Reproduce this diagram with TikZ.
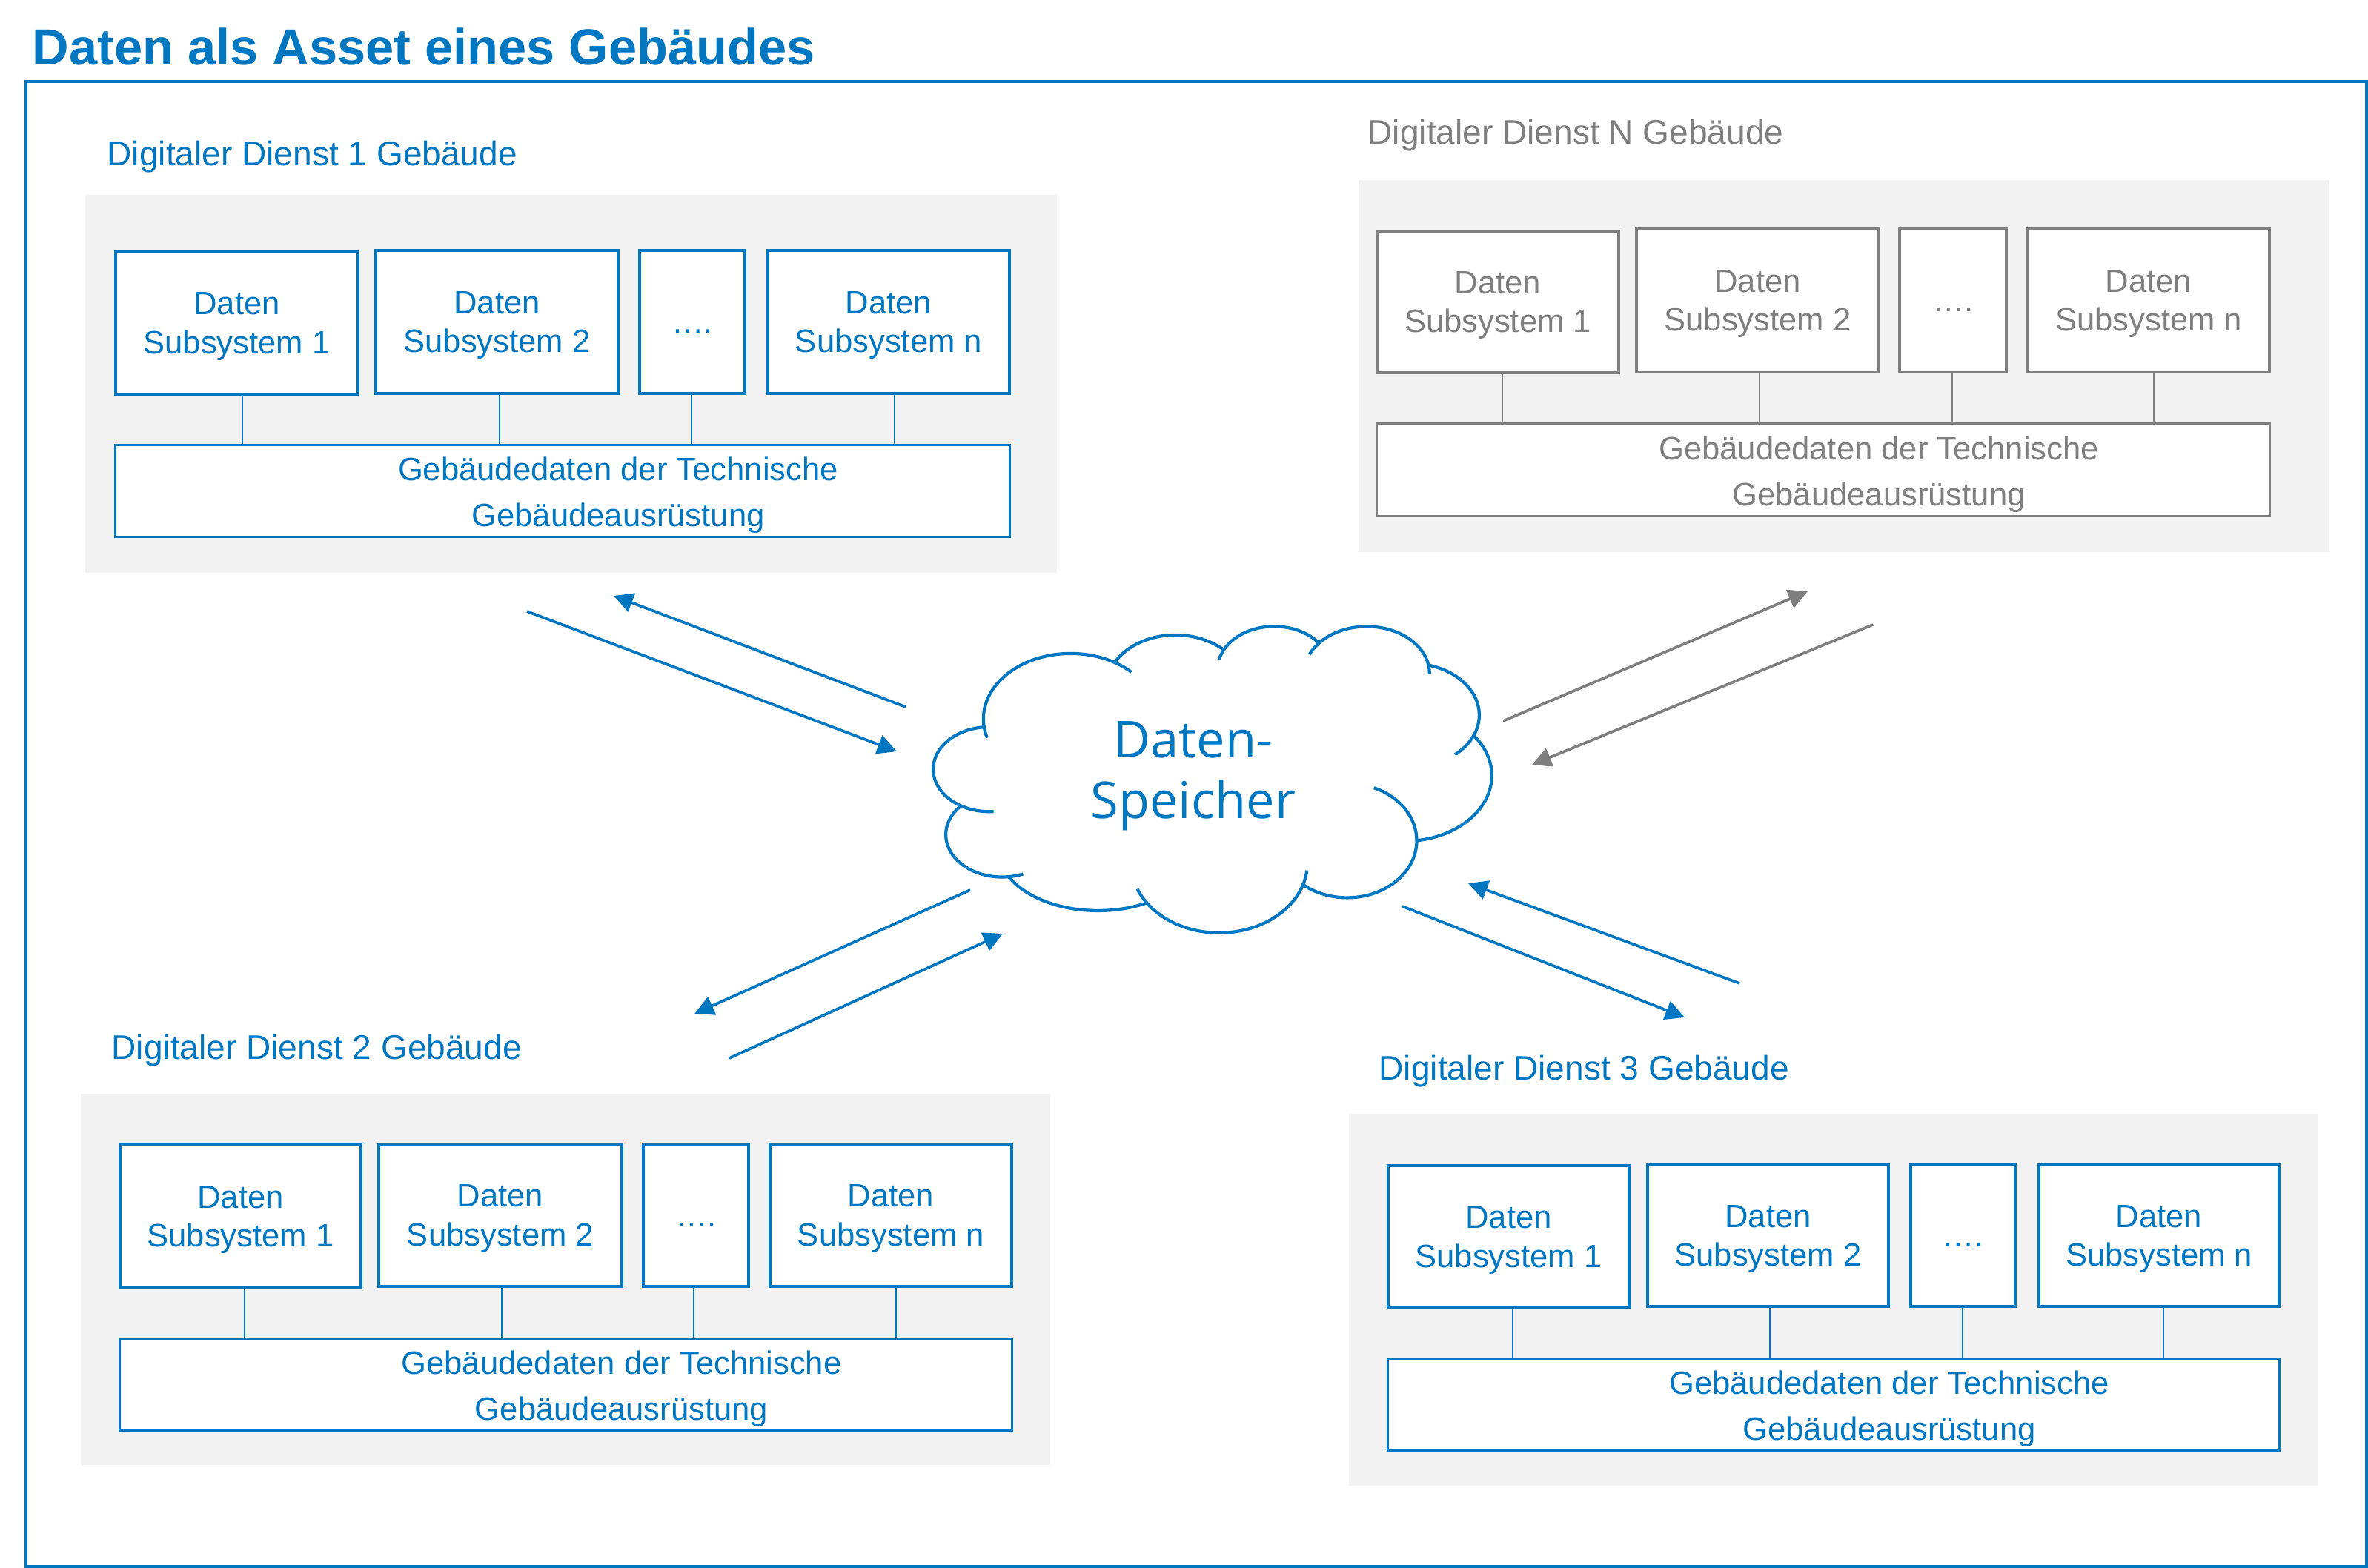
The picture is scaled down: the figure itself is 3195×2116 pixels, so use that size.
\documentclass[tikz,border=0pt]{standalone}
\usepackage{fontspec}
\setmainfont{Liberation Sans}
\newfontfamily\cloudfont{Open Sans}
\usetikzlibrary{arrows.meta}
\definecolor{bl}{HTML}{0077C0}
\definecolor{gr}{HTML}{7F7F7F}
\definecolor{pn}{HTML}{F2F2F2}
\newcommand\boxfont{\fontsize{12.4}{14.8}\selectfont}
\newcommand\btfont{\fontsize{12.4}{17.6}\selectfont}
\newcommand\lblfont{\fontsize{13.1}{15.5}\selectfont}
\newcommand\ttlfont{\bfseries\fontsize{19.5}{23}\selectfont}
\newcommand\tl{\rule{0pt}{0.39cm}}
\newcommand\cprep[5]{%
  \pgfmathsetmacro\cpS{atan2((#2)*sin(#4),(#3)*cos(#4))}%
  \pgfmathsetmacro\cpE{atan2((#2)*sin((#4)+(#5)),(#3)*cos((#4)+(#5)))}%
  \pgfmathsetmacro\cpD{\cpE-(\cpS)}%
  \pgfmathsetmacro\cpD{\cpD+360*((#5)>0)*(\cpD<0)-360*((#5)<0)*(\cpD>0)}%
  \expandafter\let\csname cS#1\endcsname\cpS
  \expandafter\let\csname cD#1\endcsname\cpD
}
\newcommand\bx[7]{%
  \pgfmathsetmacro\bxw{(#4-#2)/100}%
  \pgfmathsetmacro\bxh{(#5-#3)/100}%
  \node[#6, minimum width=\bxw cm, minimum height=\bxh cm] (#1) at ({(#2+#4)/2},{(#3+#5)/2}) {#7};%
}
\newcommand\cn[4]{%
  \coordinate (cntmp) at (#3,0);
  \draw[conn=#4] (#1.south -| cntmp) -- (#2.north -| cntmp);%
}
\tikzset{
  panel/.style={fill=pn, inner sep=0pt},
  sbox/.style={draw=#1, text=#1, fill=white, line width=0.045cm, font=\boxfont, align=center, inner sep=0pt},
  dbox/.style={sbox=#1, text height=0.39cm, text depth=0.09cm},
  bbox/.style={draw=#1, fill=white, line width=0.03cm, inner sep=0pt},
  btxt/.style={text=#1, font=\btfont, align=center, inner sep=0pt},
  conn/.style={draw=#1, line width=0.018cm},
  lbl/.style={text=#1, font=\lblfont, anchor=base west, inner sep=0pt},
  arr/.style={draw=#1, line width=0.037cm, -{Triangle[length=0.26cm,width=0.26cm]}},
  cld/.style={draw=bl, line width=0.042cm},
}
\begin{document}
\begin{tikzpicture}[x=0.01cm, y=-0.01cm]
\useasboundingbox (0,0) rectangle (3195,2116);
% title and frame
\node[text=bl, font=\ttlfont, anchor=base west, inner sep=0pt] (title) at (43,88) {Daten als Asset eines Gebäudes};
\draw[bl, line width=0.04cm] (35.3,109.7) rectangle (3193,2114);

% ---------- Group 1 ----------
\node[lbl=bl] (g1lbl) at (144,224) {Digitaler Dienst 1 Gebäude};
\bx{g1p}{115}{263}{1426}{773}{panel}{}
\bx{g1a}{156}{340}{483}{532}{sbox=bl}{\tl Daten\\Subsystem 1}
\bx{g1b}{507}{338}{834}{531}{sbox=bl}{\tl Daten\\Subsystem 2}
\bx{g1c}{863}{338}{1005}{531}{dbox=bl}{….}
\bx{g1d}{1036}{338}{1362}{531}{sbox=bl}{\tl Daten\\Subsystem n}
\bx{g1e}{156}{601}{1362}{724}{bbox=bl}{}
\node[btxt=bl] (g1t) at ([xshift=0.75cm, yshift=-0.06cm]g1e.center) {Gebäudedaten der Technische\\Gebäudeausrüstung};
\cn{g1a}{g1e}{327}{bl}
\cn{g1b}{g1e}{674}{bl}
\cn{g1c}{g1e}{933}{bl}
\cn{g1d}{g1e}{1207}{bl}

% ---------- Group N ----------
\node[lbl=gr] (gNlbl) at (1845,195) {Digitaler Dienst N Gebäude};
\bx{gNp}{1833}{243}{3143}{745}{panel}{}
\bx{gNa}{1858}{312}{2184}{503}{sbox=gr}{\tl Daten\\Subsystem 1}
\bx{gNb}{2208}{309}{2535}{502}{sbox=gr}{\tl Daten\\Subsystem 2}
\bx{gNc}{2563}{309}{2707}{502}{dbox=gr}{….}
\bx{gNd}{2736}{309}{3062}{502}{sbox=gr}{\tl Daten\\Subsystem n}
\bx{gNe}{1858}{572}{3062}{696}{bbox=gr}{}
\node[btxt=gr] (gNt) at ([xshift=0.75cm, yshift=-0.06cm]gNe.center) {Gebäudedaten der Technische\\Gebäudeausrüstung};
\cn{gNa}{gNe}{2027}{gr}
\cn{gNb}{gNe}{2374}{gr}
\cn{gNc}{gNe}{2634}{gr}
\cn{gNd}{gNe}{2906}{gr}

% ---------- Group 2 ----------
\node[lbl=bl] (g2lbl) at (150,1429) {Digitaler Dienst 2 Gebäude};
\bx{g2p}{109}{1476}{1417}{1977}{panel}{}
\bx{g2a}{162}{1545}{487}{1738}{sbox=bl}{\tl Daten\\Subsystem 1}
\bx{g2b}{511}{1544}{839}{1736}{sbox=bl}{\tl Daten\\Subsystem 2}
\bx{g2c}{868}{1544}{1010}{1736}{dbox=bl}{….}
\bx{g2d}{1039}{1544}{1365}{1736}{sbox=bl}{\tl Daten\\Subsystem n}
\bx{g2e}{162}{1807}{1365}{1930}{bbox=bl}{}
\node[btxt=bl] (g2t) at ([xshift=0.75cm, yshift=-0.06cm]g2e.center) {Gebäudedaten der Technische\\Gebäudeausrüstung};
\cn{g2a}{g2e}{330}{bl}
\cn{g2b}{g2e}{677}{bl}
\cn{g2c}{g2e}{936}{bl}
\cn{g2d}{g2e}{1209}{bl}

% ---------- Group 3 ----------
\node[lbl=bl] (g3lbl) at (1860,1457) {Digitaler Dienst 3 Gebäude};
\bx{g3p}{1820}{1503}{3128}{2005}{panel}{}
\bx{g3a}{1873}{1573}{2198}{1765}{sbox=bl}{\tl Daten\\Subsystem 1}
\bx{g3b}{2223}{1572}{2548}{1763}{sbox=bl}{\tl Daten\\Subsystem 2}
\bx{g3c}{2578}{1572}{2719}{1763}{dbox=bl}{….}
\bx{g3d}{2751}{1572}{3075}{1763}{sbox=bl}{\tl Daten\\Subsystem n}
\bx{g3e}{1873}{1834}{3075}{1957}{bbox=bl}{}
\node[btxt=bl] (g3t) at ([xshift=0.75cm, yshift=-0.06cm]g3e.center) {Gebäudedaten der Technische\\Gebäudeausrüstung};
\cn{g3a}{g3e}{2041}{bl}
\cn{g3b}{g3e}{2388}{bl}
\cn{g3c}{g3e}{2648}{bl}
\cn{g3d}{g3e}{2919}{bl}

% ---------- Cloud ----------
\cprep{a}{67.53}{91.90}{-190.48748}{123.78053}
\cprep{b}{53.33}{72.67}{-144.10238}{89.94523}
\cprep{c}{43.65}{59.45}{-145.80792}{99.72302}
\cprep{d}{48.57}{65.95}{-130.98607}{117.24173}
\cprep{e}{53.33}{72.73}{-78.70888}{109.02692}
\cprep{f}{67.75}{92.20}{-46.26725}{130.269}
\cprep{j}{43.60}{59.45}{-274.94208}{146.73557}
\cprep{k}{43.45}{59.45}{-246.8285}{152.51885}
\cprep{l}{67.53}{91.90}{169.51252}{-11.85817}
\cprep{m}{67.53}{91.90}{-66.70695}{12.31935}
\cprep{n}{43.65}{59.45}{-145.80792}{-17.68635}
\cprep{o}{48.57}{65.95}{-130.98607}{-18.19537}
\cprep{p}{48.57}{65.95}{-13.74434}{14.8589}
\cprep{q}{53.33}{72.73}{30.31804}{27.7515}
\cprep{u}{43.60}{59.45}{85.05792}{-11.44747}
\cprep{v}{43.45}{59.45}{113.1715}{-26.4295}
\begin{scope}[shift={(1260,844)}, xscale=0.4953, yscale=-0.27333]
\draw[cld, fill=white] (39pt,143.7pt) coordinate (P0)
  arc[start angle=\cSa, delta angle=\cDa, x radius=67.53pt, y radius=91.90pt] coordinate (P1)
  arc[start angle=\cSb, delta angle=\cDb, x radius=53.33pt, y radius=72.67pt] coordinate (P2)
  arc[start angle=\cSc, delta angle=\cDc, x radius=43.65pt, y radius=59.45pt] coordinate (P3)
  arc[start angle=\cSd, delta angle=\cDd, x radius=48.57pt, y radius=65.95pt] coordinate (P4)
  arc[start angle=\cSe, delta angle=\cDe, x radius=53.33pt, y radius=72.73pt] coordinate (P5)
  arc[start angle=\cSf, delta angle=\cDf, x radius=67.75pt, y radius=92.20pt] coordinate (P6)
  arc[start angle=0, end angle=129.4, x radius=53.87pt, y radius=80.22pt] coordinate (P7)
  arc[start angle=18.1, end angle=145.2, x radius=68.34pt, y radius=98.03pt] coordinate (P8)
  arc[start angle=60.7, end angle=153.6, x radius=77.20pt, y radius=85.80pt] coordinate (P9)
  arc[start angle=\cSj, delta angle=\cDj, x radius=43.60pt, y radius=59.45pt] coordinate (P10)
  arc[start angle=\cSk, delta angle=\cDk, x radius=43.45pt, y radius=59.45pt] -- cycle;
\draw[cld]
  (P0) arc[start angle=\cSl, delta angle=\cDl, x radius=67.53pt, y radius=91.90pt]
  (P1) arc[start angle=\cSm, delta angle=\cDm, x radius=67.53pt, y radius=91.90pt]
  (P2) arc[start angle=\cSn, delta angle=\cDn, x radius=43.65pt, y radius=59.45pt]
  (P3) arc[start angle=\cSo, delta angle=\cDo, x radius=48.57pt, y radius=65.95pt]
  (P4) arc[start angle=\cSp, delta angle=\cDp, x radius=48.57pt, y radius=65.95pt]
  (P5) arc[start angle=\cSq, delta angle=\cDq, x radius=53.33pt, y radius=72.73pt]
  (P6) arc[start angle=0, end angle=-67.3, x radius=53.87pt, y radius=80.22pt]
  (P7) arc[start angle=18.1, end angle=6.1, x radius=68.34pt, y radius=98.03pt]
  (P8) arc[start angle=145.2, end angle=158.2, x radius=68.34pt, y radius=98.03pt]
  (P9) arc[start angle=\cSu, delta angle=\cDu, x radius=43.60pt, y radius=59.45pt]
  (P10) arc[start angle=\cSv, delta angle=\cDv, x radius=43.45pt, y radius=59.45pt];
\end{scope}
\node[text=bl, font=\cloudfont\fontsize{19.5}{23.3}\selectfont, align=center, inner sep=0pt] (store) at (1610,1047) {Daten-\\Speicher};

% ---------- Arrows ----------
\coordinate (a1s) at (711,825);   \coordinate (a1e) at (1210,1014);
\coordinate (a2s) at (1222,954);  \coordinate (a2e) at (828,804);
\coordinate (a3s) at (2028,973);  \coordinate (a3e) at (2439,798);
\coordinate (a4s) at (2527,843);  \coordinate (a4e) at (2067,1032);
\coordinate (a5s) at (1309,1201); \coordinate (a5e) at (937,1368);
\coordinate (a6s) at (984,1428);  \coordinate (a6e) at (1353,1260);
\coordinate (a7s) at (1892,1223); \coordinate (a7e) at (2273,1373);
\coordinate (a8s) at (2347,1327); \coordinate (a8e) at (1981,1192);
\draw[arr=bl] (a1s) -- (a1e);
\draw[arr=bl] (a2s) -- (a2e);
\draw[arr=gr] (a3s) -- (a3e);
\draw[arr=gr] (a4s) -- (a4e);
\draw[arr=bl] (a5s) -- (a5e);
\draw[arr=bl] (a6s) -- (a6e);
\draw[arr=bl] (a7s) -- (a7e);
\draw[arr=bl] (a8s) -- (a8e);
\end{tikzpicture}
\end{document}
